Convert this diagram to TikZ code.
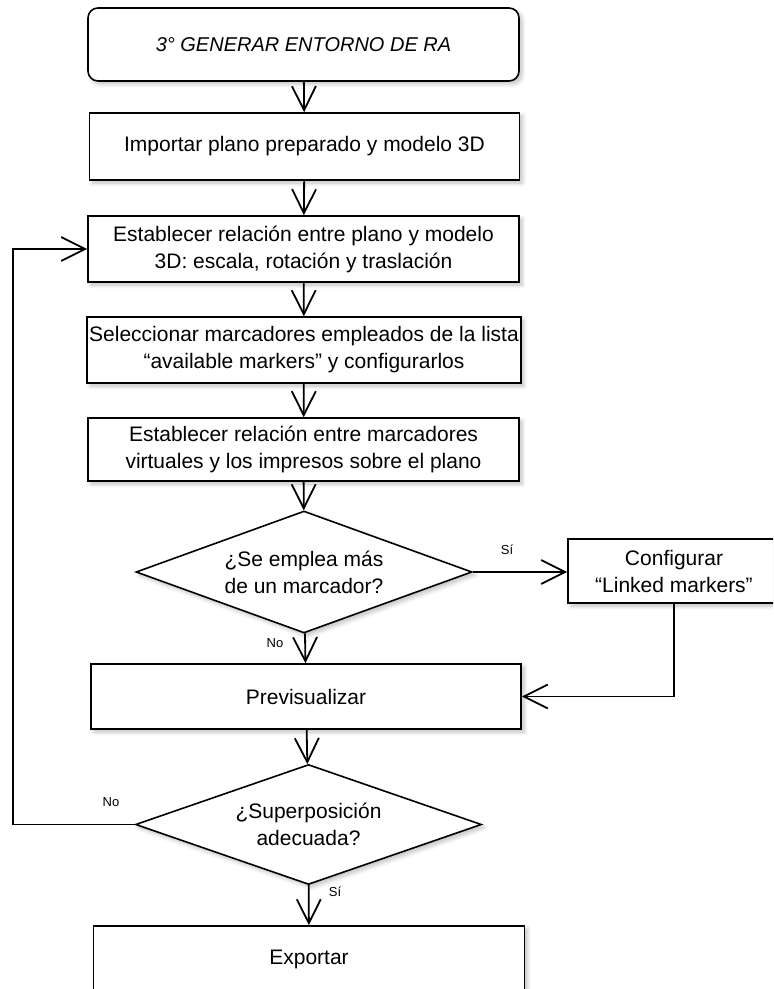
\documentclass[tikz,border=0pt]{standalone}
\usepackage{fontspec}
\setmainfont{Liberation Sans}
\usetikzlibrary{positioning,shapes.geometric,arrows.meta,shadows.blur}

\begin{document}
\begin{tikzpicture}[
    x=0.5pt, y=-0.5pt,
    block/.style={
        rectangle,
        draw=black,
        line width=0.8pt,
        fill=white,
        inner xsep=1pt,
        align=center,
        font=\fontsize{10.5pt}{13.5pt}\selectfont,
        blur shadow={shadow xshift=1.5pt, shadow yshift=-1.5pt, shadow blur steps=6, shadow opacity=25}
    },
    startblock/.style={
        block,
        rounded corners=5pt,
        font=\itshape\fontsize{10pt}{12pt}\selectfont
    },
    decision/.style={
        diamond,
        draw=black,
        line width=0.8pt,
        fill=white,
        inner sep=0pt,
        align=center,
        font=\fontsize{10.5pt}{13.5pt}\selectfont,
        blur shadow={shadow xshift=1.5pt, shadow yshift=-1.5pt, shadow blur steps=6, shadow opacity=25}
    },
    tag/.style={font=\fontsize{6.5pt}{8pt}\selectfont, inner sep=0pt},
    flow/.style={-{Straight Barb[length=12pt,width=12pt]}, line width=0.9pt}
]
    \useasboundingbox (0,0) rectangle (773,989);
    \clip (0,0) rectangle (773,989);

    % Main column
    \node[startblock, minimum width=215.5pt, minimum height=36.5pt] (start) at (303.5,44.5) {3° GENERAR ENTORNO DE RA};
    \node[block, minimum width=215pt, minimum height=33.5pt] (b1) at (304.5,146.5) {Importar plano preparado y modelo 3D};
    \node[block, minimum width=215.5pt, minimum height=33pt] (b2) at (303.5,249) {Establecer relación entre plano y modelo\\3D: escala, rotación y traslación};
    \node[block, minimum width=216pt, minimum height=33pt] (b3) at (304,350) {Seleccionar marcadores empleados de la lista\\“available markers” y configurarlos};
    \node[block, minimum width=215.5pt, minimum height=31.5pt] (b4) at (303.5,449.5) {Establecer relación entre marcadores\\virtuales y los impresos sobre el plano};
    \node[decision, aspect=2.75, minimum width=168pt, minimum height=61pt] (d1) at (304,572) {¿Se emplea más\\de un marcador?};
    \node[block, minimum width=215pt, minimum height=32.5pt] (prev) at (306,696.5) {Previsualizar};
    \node[decision, aspect=2.9, minimum width=173pt, minimum height=60pt] (d2) at (308.5,824.5) {¿Superposición\\adecuada?};
    \node[block, minimum width=215.5pt, minimum height=33pt] (exp) at (309,959) {Exportar};

    \foreach \from/\to in {start/b1, b1/b2, b2/b3, b3/b4, b4/d1, d1/prev, prev/d2, d2/exp}
        \draw[flow] (\from) -- (\to);

    % Side branch
    \node[block, minimum width=106pt, minimum height=32pt] (link) at (674,571) {Configurar\\“Linked markers”};
    \draw[flow] (d1.east) -- (d1.east -| link.west);
    \draw[flow] (link.south) |- (prev.east);

    % Loop back
    \coordinate (loop) at (13,0);
    \draw[flow] (d2.west) -- (d2.west -| loop) |- (b2.west);

    % Labels
    \node[tag] (si1) at (507,550) {Sí};
    \node[tag] (no1) at (275,643) {No};
    \node[tag] (no2) at (111,802) {No};
    \node[tag] (si2) at (335,892) {Sí};
\end{tikzpicture}
\end{document}
